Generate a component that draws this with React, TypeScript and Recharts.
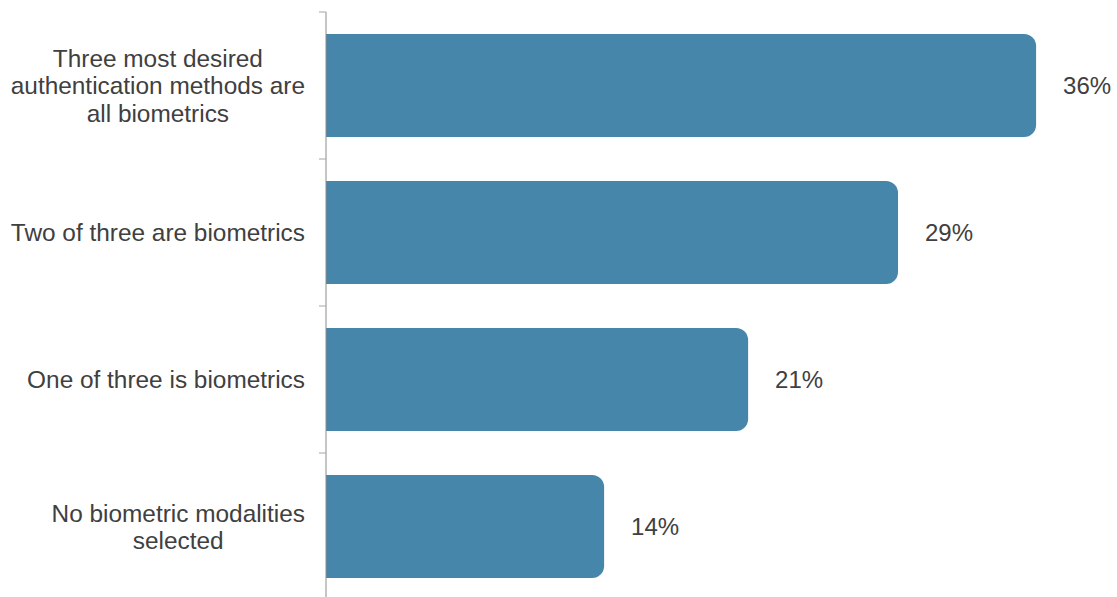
import { BarChart, Bar, XAxis, YAxis, LabelList } from "recharts";

const categories = [
  "Three most desired\nauthentication methods are\nall biometrics",
  "Two of three are biometrics",
  "One of three is biometrics",
  "No biometric modalities\nselected",
];
const shares = [36, 29, 21.4, 14.1];

const data = categories.map((name, i) => ({ name, value: shares[i] }));

document.body.style.margin = "0";

const FONT = "'Liberation Sans', Arial, sans-serif";
const TEXT = "#404040";
const BAND = 147;
const CAT_SIZE = 24.4;

const ctx = document.createElement("canvas").getContext("2d");
const textWidth = (s: string) => {
  if (!ctx) return s.length * 12;
  ctx.font = `${CAT_SIZE}px ${FONT}`;
  return ctx.measureText(s).width;
};

const CategoryTick = (props: any) => {
  const { x, y, payload } = props;
  const lines: string[] = String(payload.value).split("\n");
  const widest = Math.max(...lines.map(textWidth));
  const cx = x - widest / 2;
  const top = y - ((lines.length - 1) * 27.5) / 2;
  return (
    <g>
      <line x1={x + 14} x2={x + 21} y1={y - BAND / 2} y2={y - BAND / 2} stroke="#a6a6a6" />
      <text textAnchor="middle" fill={TEXT} fontSize={CAT_SIZE} fontFamily={FONT}>
        {lines.map((l, i) => (
          <tspan key={i} x={cx} y={top + i * 27.5} dy="0.36em">
            {l}
          </tspan>
        ))}
      </text>
    </g>
  );
};

const App = () => {
  return (
    <div style={{ height: 597, overflow: "hidden" }}>
      <BarChart
        width={1117}
        height={600}
        data={data}
        layout="vertical"
        margin={{ top: 12, right: 2, bottom: 0, left: 0 }}
        barCategoryGap="15%"
      >
        <XAxis type="number" domain={[0, 40]} hide />
        <YAxis
          type="category"
          dataKey="name"
          width={326}
          axisLine={{ stroke: "#8c8c8c" }}
          tickLine={false}
          tickSize={0}
          tickMargin={21}
          tick={<CategoryTick />}
          interval={0}
        />
        <Bar dataKey="value" fill="#4786ab" radius={[0, 12, 12, 0]} isAnimationActive={false}>
          <LabelList
            dataKey="value"
            position="right"
            offset={27}
            formatter={(v: any) => `${Math.round(Number(v))}%`}
            fill={TEXT}
            fontSize={24}
            fontFamily={FONT}
          />
        </Bar>
      </BarChart>
    </div>
  );
};

export default App;
